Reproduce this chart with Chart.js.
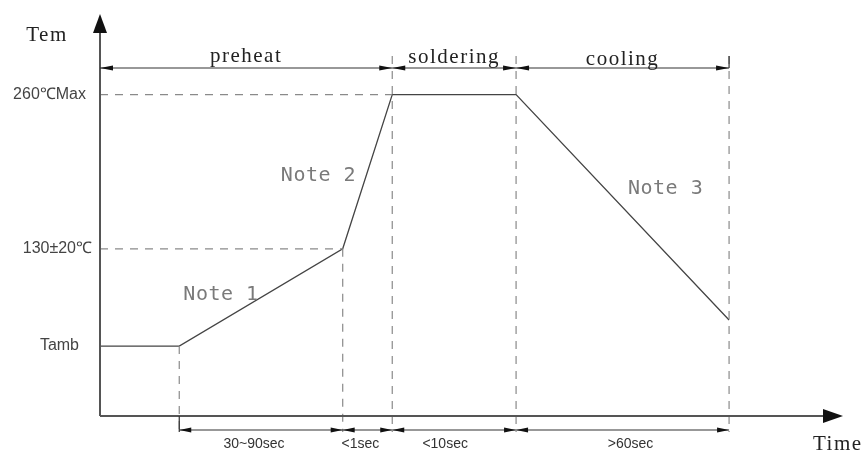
<!DOCTYPE html>
<html>
<head>
<meta charset="utf-8">
<script src="https://cdn.jsdelivr.net/npm/chart.js@4"></script>
<style>
  html, body { margin: 0; padding: 0; background: #fff; }
  #wrap { width: 867px; height: 451px; }
</style>
</head>
<body>
<div id="wrap"><canvas id="myChart"></canvas></div>
<script>
// schematic reflow profile (time in arbitrary units, temperature in degC)
const times = [0, 16, 49, 59, 84, 127];
const temps = [48, 48, 130, 260, 260, 70];
const tempMarks = [48, 130, 260];
const tempLabels = ['Tamb', '130±20℃', '260℃Max'];
const phaseNames = ['preheat', 'soldering', 'cooling'];
const phaseStart = [0, 3, 4];   // index into times
const phaseEnd = [3, 4, 5];
const durationLabels = ['30~90sec', '<1sec', '<10sec', '>60sec'];
const noteLabels = ['Note 1', 'Note 2', 'Note 3'];

const profile = times.map((t, i) => ({ x: t, y: temps[i] }));

function arrow(ctx, x, y, dir, len, half) {
    // dir: 1 = pointing right, -1 = pointing left, tip at (x,y)
    ctx.beginPath();
    ctx.moveTo(x, y);
    ctx.lineTo(x - dir * len, y - half);
    ctx.lineTo(x - dir * len, y + half);
    ctx.closePath();
    ctx.fill();
}

const drawing = {
    id: 'drawing',
    afterDatasetsDraw(chart) {
        const ctx = chart.ctx;
        const xs = chart.scales.x, ys = chart.scales.y;
        const area = chart.chartArea;
        const px = v => xs.getPixelForValue(v);
        const py = v => ys.getPixelForValue(v);
        const left = area.left, bottom = area.bottom;
        const topDim = 68, botDim = 430;

        ctx.save();

        // dashed guide lines
        ctx.strokeStyle = '#8a8a8a';
        ctx.lineWidth = 1.2;
        ctx.setLineDash([8, 7]);
        ctx.beginPath();
        ctx.moveTo(left, py(260)); ctx.lineTo(px(times[3]), py(260));
        ctx.moveTo(left, py(130)); ctx.lineTo(px(times[2]), py(130));
        ctx.moveTo(px(times[1]), py(temps[1])); ctx.lineTo(px(times[1]), botDim + 2);
        ctx.moveTo(px(times[2]), py(temps[2])); ctx.lineTo(px(times[2]), botDim + 2);
        [3, 4, 5].forEach(i => {
            ctx.moveTo(px(times[i]), 56); ctx.lineTo(px(times[i]), botDim + 2);
        });
        ctx.stroke();
        ctx.setLineDash([]);

        // axes
        ctx.strokeStyle = '#555';
        ctx.fillStyle = '#111';
        ctx.lineWidth = 2;
        ctx.beginPath();
        ctx.moveTo(left, bottom); ctx.lineTo(left, area.top + 16);
        ctx.moveTo(left, bottom); ctx.lineTo(area.right - 16, bottom);
        ctx.stroke();
        ctx.beginPath();
        ctx.moveTo(left, area.top);
        ctx.lineTo(left - 7, area.top + 19);
        ctx.lineTo(left + 7, area.top + 19);
        ctx.closePath(); ctx.fill();
        ctx.beginPath();
        ctx.moveTo(area.right, bottom);
        ctx.lineTo(area.right - 20, bottom - 7);
        ctx.lineTo(area.right - 20, bottom + 7);
        ctx.closePath(); ctx.fill();

        // top dimension line with phases
        ctx.strokeStyle = '#333';
        ctx.lineWidth = 1.2;
        ctx.beginPath();
        ctx.moveTo(left, topDim); ctx.lineTo(px(times[5]), topDim);
        ctx.moveTo(px(times[5]), 56); ctx.lineTo(px(times[5]), topDim);
        ctx.stroke();
        ctx.fillStyle = '#111';
        phaseNames.forEach((name, k) => {
            const a = phaseStart[k] === 0 ? left : px(times[phaseStart[k]]);
            const b = px(times[phaseEnd[k]]);
            arrow(ctx, a, topDim, -1, 13, 2.5);
            arrow(ctx, b, topDim, 1, 13, 2.5);
        });

        // bottom dimension line with durations
        ctx.beginPath();
        ctx.moveTo(px(times[1]), botDim); ctx.lineTo(px(times[5]), botDim);
        ctx.moveTo(px(times[1]), bottom); ctx.lineTo(px(times[1]), botDim + 2);
        ctx.stroke();
        durationLabels.forEach((lbl, k) => {
            const a = px(times[k + 1]), b = px(times[k + 2]);
            arrow(ctx, a, botDim, -1, 12, 2.5);
            arrow(ctx, b, botDim, 1, 12, 2.5);
        });

        // serif labels
        ctx.fillStyle = '#222';
        ctx.font = '21px "Liberation Serif", serif';
        ctx.letterSpacing = '1.5px';
        ctx.textAlign = 'center';
        ctx.textBaseline = 'alphabetic';
        ctx.fillText('Tem', 47, 41);
        const phaseBase = [62, 63, 65];
        phaseNames.forEach((name, k) => {
            const a = phaseStart[k] === 0 ? left : px(times[phaseStart[k]]);
            const b = px(times[phaseEnd[k]]);
            ctx.fillText(name, (a + b) / 2, phaseBase[k]);
        });
        ctx.textAlign = 'left';
        ctx.fillText('Time', 813, 450);
        ctx.letterSpacing = '0px';

        // temperature labels
        ctx.fillStyle = '#444';
        ctx.font = '16px "Liberation Sans", sans-serif';
        ctx.textAlign = 'right';
        ctx.textBaseline = 'middle';
        const labelRight = [79, 92, 86];
        tempMarks.forEach((t, i) => {
            ctx.fillText(tempLabels[i], labelRight[i], py(t));
        });

        // duration labels
        ctx.font = '14px "Liberation Sans", sans-serif';
        ctx.textAlign = 'center';
        ctx.fillStyle = '#333';
        const durShift = [-7, -7, -9, 8];
        durationLabels.forEach((lbl, k) => {
            const a = px(times[k + 1]), b = px(times[k + 2]);
            ctx.fillText(lbl, (a + b) / 2 + durShift[k], 444);
        });

        // notes next to the profile segments
        ctx.font = '20px "DejaVu Sans Mono", monospace';
        ctx.letterSpacing = '0.5px';
        ctx.fillStyle = '#7a7a7a';
        const noteSeg = [1, 2, 4];
        const noteOff = [[-40, -3], [-49, 4], [43, -18]];
        noteLabels.forEach((lbl, k) => {
            const s = noteSeg[k];
            const mx = (px(times[s]) + px(times[s + 1])) / 2;
            const my = (py(temps[s]) + py(temps[s + 1])) / 2;
            ctx.fillText(lbl, mx + noteOff[k][0], my + noteOff[k][1]);
        });

        ctx.restore();
    }
};

const ctx = document.getElementById('myChart');

new Chart(ctx, {
    type: 'scatter',
    data: {
        datasets: [{
            label: 'Profile',
            data: profile,
            showLine: true,
            borderColor: '#444',
            borderWidth: 1.3,
            pointRadius: 0,
            tension: 0
        }]
    },
    options: {
        responsive: true,
        maintainAspectRatio: false,
        animation: false,
        layout: { padding: { left: 100, right: 24, top: 14, bottom: 35 } },
        plugins: {
            legend: { display: false },
            tooltip: { enabled: false }
        },
        scales: {
            x: { type: 'linear', min: 0, max: 150, display: false },
            y: { type: 'linear', min: -11, max: 328, display: false }
        }
    },
    plugins: [drawing]
});
</script>
</body>
</html>
